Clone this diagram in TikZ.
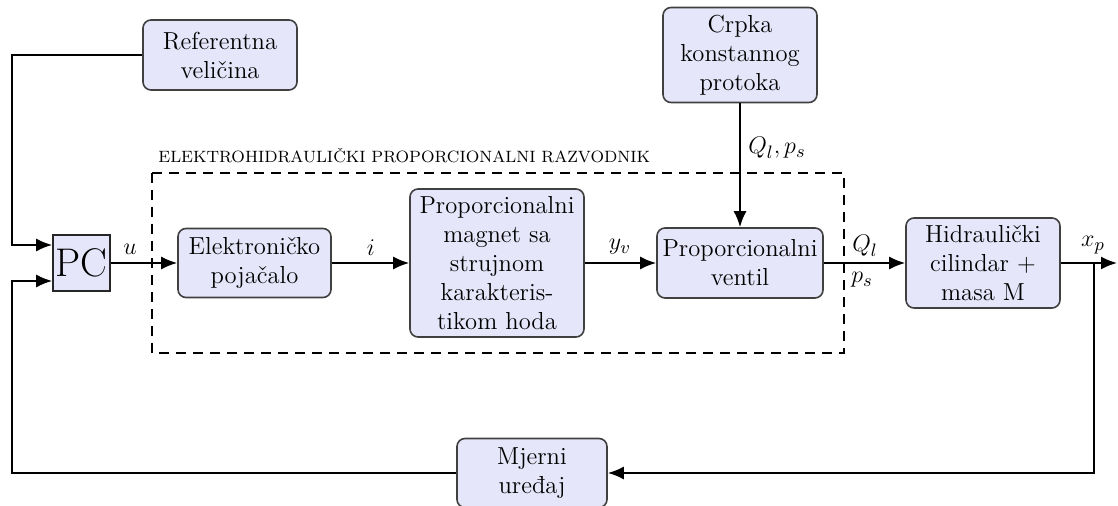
\documentclass[tikz,border=0pt]{standalone}
\usetikzlibrary{arrows.meta,calc}
\definecolor{boxfill}{RGB}{230,230,250}
\begin{document}
\begin{tikzpicture}[x=0.5pt,y=-0.5pt,
  blk/.style={draw=black!75,fill=boxfill,line width=0.8pt,rounded corners=4pt,
    align=center,font=\fontsize{12.3}{14.5}\selectfont,inner sep=0pt},
  pcbox/.style={draw=black!85,fill=boxfill,line width=0.8pt,inner sep=0pt,
    font=\fontsize{20}{24}\selectfont},
  conn/.style={line width=0.95pt,-{Latex[length=8pt,width=6.5pt]}},
  lbl/.style={font=\fontsize{12.3}{14}\selectfont,inner sep=1pt},
  frame/.style={line width=0.7pt,dash pattern=on 5pt off 3.5pt}]
\useasboundingbox (0,0) rectangle (1118,506);
% blocks
\node[blk,minimum width=77pt,minimum height=35pt] (ref) at (220,55) {Referentna\\veličina};
\node[blk,minimum width=77pt,minimum height=47.5pt] (crpka) at (740,55) {Crpka\\konstannog\\protoka};
\node[pcbox,minimum width=28.5pt,minimum height=28pt] (pc) at (81.5,263) {PC};
\node[blk,minimum width=76.5pt,minimum height=34.5pt] (elek) at (254.5,263) {Elektroničko\\pojačalo};
\node[blk,minimum width=87pt,minimum height=74pt] (mag) at (497,263) {Proporcionalni\\magnet sa\\strujnom\\karakteris-\\tikom hoda};
\node[blk,minimum width=83pt,minimum height=35pt] (ventil) at (740,263) {Proporcionalni\\ventil};
\node[blk,minimum width=77pt,minimum height=45pt] (hidr) at (983,263) {Hidraulički\\cilindar +\\masa M};
\node[blk,minimum width=75pt,minimum height=34.5pt] (mjer) at (532,473) {Mjerni\\uređaj};
% dashed frame
\draw[frame] (152,173) rectangle (844,353);
\node[anchor=base west,inner sep=0pt,font=\fontsize{8.2}{10}\selectfont] (title) at (158,163) {ELEKTROHIDRAULIČKI PROPORCIONALNI RAZVODNIK};
% coordinates
\coordinate (c1) at (12,245);
\coordinate (c2) at (12,281);
\coordinate (out) at (1117,263);
\coordinate (br) at (1094,263);
% connectors
\draw[conn] (ref.west) -| (c1) -- (c1 -| pc.west);
\draw[conn] (mjer.west) -| (c2) -- (c2 -| pc.west);
\draw[conn] (pc.east) -- (elek.west);
\draw[conn] (elek.east) -- (mag.west);
\draw[conn] (mag.east) -- (ventil.west);
\draw[conn] (ventil.east) -- (hidr.west);
\draw[conn] (hidr.east) -- (out);
\draw[conn] (br) |- (mjer.east);
\draw[conn] (crpka.south) -- (ventil.north);
% labels
\node[lbl] (lu) at (130,249) {$u$};
\node[lbl] (li) at (371,248) {$i$};
\node[lbl] (lyv) at (620,247) {$y_v$};
\node[lbl] (lql) at (865,246) {$Q_l$};
\node[lbl] (lps) at (862,280) {$p_s$};
\node[lbl] (lxp) at (1093,245) {$x_p$};
\node[lbl] (lqp) at (777,148) {$Q_l, p_s$};
\end{tikzpicture}
\end{document}
